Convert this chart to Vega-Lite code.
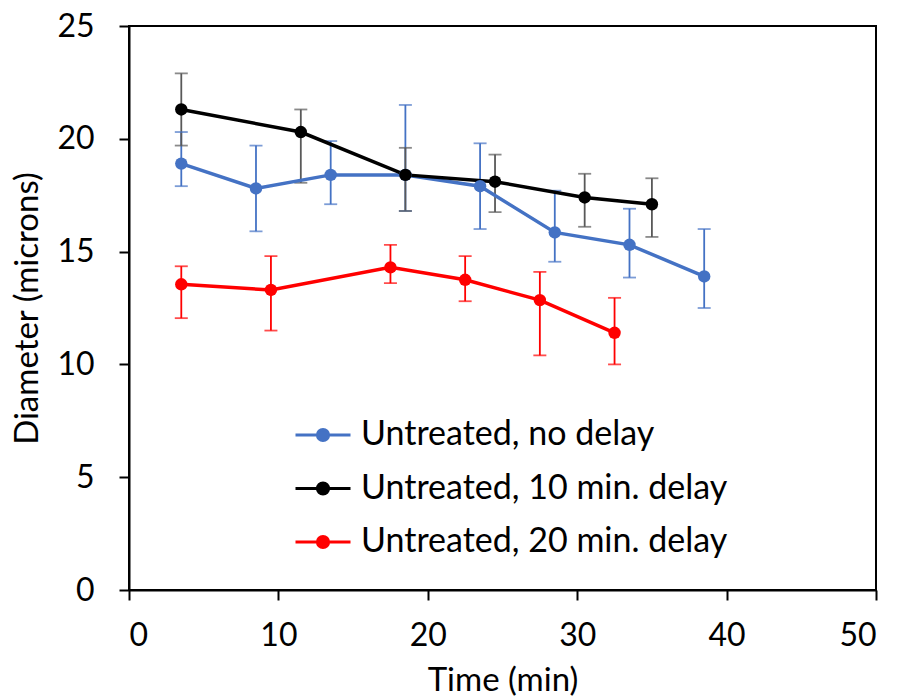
{
  "$schema": "https://vega.github.io/schema/vega-lite/v6.json",
  "width": 747,
  "height": 564,
  "autosize": "none",
  "padding": {"left": 129, "top": 26, "right": 22, "bottom": 110},
  "background": "white",
  "config": {
    "view": {"stroke": "black", "strokeWidth": 2},
    "font": "Lato",
    "axis": {
      "grid": false,
      "domainColor": "black",
      "domainWidth": 2,
      "tickColor": "black",
      "tickWidth": 2,
      "tickSize": 10,
      "labelFont": "Lato",
      "labelFontSize": 32,
      "labelColor": "black",
      "titleFont": "Lato",
      "titleFontSize": 33,
      "titleFontWeight": "normal",
      "titleColor": "black"
    }
  },
  "data": {
    "values": [
      {"series": "Untreated, no delay", "time": 3.5, "diameter": 18.9, "low": 17.9, "high": 20.3},
      {"series": "Untreated, no delay", "time": 8.5, "diameter": 17.8, "low": 15.9, "high": 19.7},
      {"series": "Untreated, no delay", "time": 13.5, "diameter": 18.4, "low": 17.1, "high": 19.9},
      {"series": "Untreated, no delay", "time": 18.5, "diameter": 18.4, "low": 16.8, "high": 21.5},
      {"series": "Untreated, no delay", "time": 23.5, "diameter": 17.9, "low": 16.0, "high": 19.8},
      {"series": "Untreated, no delay", "time": 28.5, "diameter": 15.85, "low": 14.55, "high": 17.7},
      {"series": "Untreated, no delay", "time": 33.5, "diameter": 15.3, "low": 13.85, "high": 16.9},
      {"series": "Untreated, no delay", "time": 38.5, "diameter": 13.9, "low": 12.5, "high": 16.0},
      {"series": "Untreated, 10 min. delay", "time": 3.5, "diameter": 21.3, "low": 19.7, "high": 22.9},
      {"series": "Untreated, 10 min. delay", "time": 11.5, "diameter": 20.3, "low": 18.05, "high": 21.3},
      {"series": "Untreated, 10 min. delay", "time": 18.5, "diameter": 18.4, "low": 16.8, "high": 19.6},
      {"series": "Untreated, 10 min. delay", "time": 24.5, "diameter": 18.1, "low": 16.75, "high": 19.3},
      {"series": "Untreated, 10 min. delay", "time": 30.5, "diameter": 17.4, "low": 16.1, "high": 18.45},
      {"series": "Untreated, 10 min. delay", "time": 35, "diameter": 17.1, "low": 15.65, "high": 18.25},
      {"series": "Untreated, 20 min. delay", "time": 3.5, "diameter": 13.55, "low": 12.05, "high": 14.35},
      {"series": "Untreated, 20 min. delay", "time": 9.5, "diameter": 13.3, "low": 11.5, "high": 14.8},
      {"series": "Untreated, 20 min. delay", "time": 17.5, "diameter": 14.3, "low": 13.6, "high": 15.3},
      {"series": "Untreated, 20 min. delay", "time": 22.5, "diameter": 13.75, "low": 12.8, "high": 14.8},
      {"series": "Untreated, 20 min. delay", "time": 27.5, "diameter": 12.85, "low": 10.4, "high": 14.1},
      {"series": "Untreated, 20 min. delay", "time": 32.5, "diameter": 11.4, "low": 10.0, "high": 12.95}
    ]
  },
  "encoding": {
    "x": {
      "field": "time", "type": "quantitative",
      "scale": {"domain": [0, 50], "nice": false, "zero": false},
      "axis": {"values": [0, 10, 20, 30, 40, 50], "title": "Time (min)", "labelPadding": 20, "titlePadding": 13}
    }
  },
  "layer": [
    {
      "mark": {"type": "rule", "strokeWidth": 1.8},
      "encoding": {
        "y": {"field": "low", "type": "quantitative", "scale": {"domain": [0, 25], "nice": false}, "axis": {"values": [0, 5, 10, 15, 20, 25], "title": "Diameter (microns)", "labelPadding": 25, "titlePadding": 12}},
        "y2": {"field": "high"},
        "color": {"field": "series", "type": "nominal", "scale": {"domain": ["Untreated, no delay", "Untreated, 10 min. delay", "Untreated, 20 min. delay"], "range": ["#4472C4", "#595959", "#FF0000"]}, "legend": null}
      }
    },
    {
      "mark": {"type": "tick", "orient": "horizontal", "size": 13, "thickness": 1.8},
      "encoding": {
        "y": {"field": "low", "type": "quantitative"},
        "color": {"field": "series", "type": "nominal", "scale": {"domain": ["Untreated, no delay", "Untreated, 10 min. delay", "Untreated, 20 min. delay"], "range": ["#4472C4", "#595959", "#FF0000"]}, "legend": null}
      }
    },
    {
      "mark": {"type": "tick", "orient": "horizontal", "size": 13, "thickness": 1.8},
      "encoding": {
        "y": {"field": "high", "type": "quantitative"},
        "color": {"field": "series", "type": "nominal", "scale": {"domain": ["Untreated, no delay", "Untreated, 10 min. delay", "Untreated, 20 min. delay"], "range": ["#4472C4", "#595959", "#FF0000"]}, "legend": null}
      }
    },
    {
      "mark": {"type": "line", "strokeWidth": 3.5},
      "encoding": {
        "y": {"field": "diameter", "type": "quantitative"},
        "color": {"field": "series", "type": "nominal", "scale": {"domain": ["Untreated, no delay", "Untreated, 10 min. delay", "Untreated, 20 min. delay"], "range": ["#4472C4", "#000000", "#FF0000"]}, "legend": null}
      }
    },
    {
      "mark": {"type": "point", "shape": "circle", "filled": true, "opacity": 1, "size": 155},
      "encoding": {
        "y": {"field": "diameter", "type": "quantitative"},
        "color": {"field": "series", "type": "nominal", "scale": {"domain": ["Untreated, no delay", "Untreated, 10 min. delay", "Untreated, 20 min. delay"], "range": ["#4472C4", "#000000", "#FF0000"]},
          "legend": {
            "title": null, "orient": "none", "legendX": 177, "legendY": 392, "padding": 0,
            "symbolType": "M-2.5,0H2.5M0.5,0A0.5,0.5,0,1,1,-0.5,0A0.5,0.5,0,1,1,0.5,0",
            "symbolSize": 484, "symbolStrokeWidth": 3.2, "symbolOpacity": 1,
            "labelFont": "Lato", "labelFontSize": 34, "labelColor": "black", "labelOffset": 21,
            "rowPadding": 19.5, "labelLimit": 600,
            "encode": {
              "symbols": {
                "update": {
                  "stroke": {"signal": "datum.value === 'Untreated, no delay' ? '#4472C4' : datum.value === 'Untreated, 10 min. delay' ? '#000000' : '#FF0000'"},
                  "strokeWidth": {"value": 3.2}
                }
              }
            }
          }
        }
      }
    }
  ],
  "resolve": {"scale": {"color": "independent"}}
}
